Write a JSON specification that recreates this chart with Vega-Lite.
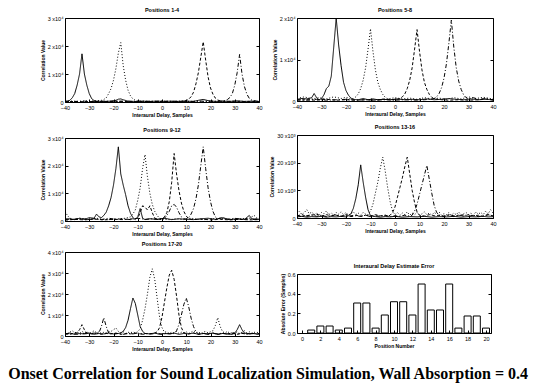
{
"$schema":"https://vega.github.io/schema/vega-lite/v6.json",
"background":"white",
"padding":{"left":7,"top":7,"right":5,"bottom":2},
"title":{"text":"Onset Correlation for Sound Localization Simulation, Wall Absorption = 0.4","orient":"bottom","font":"Liberation Serif","fontSize":16,"fontWeight":"bold","color":"black","offset":14,"anchor":"middle"},
"config":{
 "view":{"stroke":"black","strokeWidth":1},
 "axis":{"domain":false,"grid":false,"labelFont":"Liberation Sans","labelFontSize":5.5,"labelColor":"black","tickColor":"black","tickSize":-3,"labelPadding":5,"titleFont":"Liberation Sans","titleFontSize":5,"titleFontWeight":"bold","titleColor":"black","titlePadding":2,"labelFlush":false,"labelOverlap":false},
 "axisX":{"labelPadding":6},
 "title":{"font":"Liberation Sans","fontSize":5.5,"fontWeight":"bold","color":"black","offset":3}
},
"datasets":{
"p1":[
{"s":"a","lag":-40,"val":0.02},{"s":"a","lag":-39,"val":0.03},{"s":"a","lag":-38,"val":0.06},{"s":"a","lag":-37,"val":0.15},{"s":"a","lag":-36,"val":0.3},{"s":"a","lag":-35,"val":0.6},{"s":"a","lag":-34,"val":1.0},{"s":"a","lag":-33,"val":1.72},{"s":"a","lag":-32,"val":1.0},{"s":"a","lag":-31,"val":0.6},{"s":"a","lag":-30,"val":0.3},{"s":"a","lag":-29,"val":0.12},{"s":"a","lag":-28,"val":0.05},{"s":"a","lag":-27,"val":0.03},{"s":"a","lag":-24,"val":0.02},{"s":"a","lag":-21,"val":0.03},{"s":"a","lag":-19,"val":0.06},{"s":"a","lag":-18,"val":0.1},{"s":"a","lag":-17,"val":0.11},{"s":"a","lag":-16,"val":0.08},{"s":"a","lag":-14,"val":0.03},{"s":"a","lag":-11,"val":0.02},{"s":"a","lag":-8,"val":0.03},{"s":"a","lag":-5,"val":0.02},{"s":"a","lag":-2,"val":0.03},{"s":"a","lag":1,"val":0.02},{"s":"a","lag":4,"val":0.03},{"s":"a","lag":7,"val":0.02},{"s":"a","lag":10,"val":0.03},{"s":"a","lag":13,"val":0.02},{"s":"a","lag":15,"val":0.06},{"s":"a","lag":17,"val":0.09},{"s":"a","lag":19,"val":0.05},{"s":"a","lag":22,"val":0.02},{"s":"a","lag":25,"val":0.03},{"s":"a","lag":28,"val":0.02},{"s":"a","lag":31,"val":0.04},{"s":"a","lag":34,"val":0.02},{"s":"a","lag":37,"val":0.03},{"s":"a","lag":40,"val":0.02},
{"s":"b","lag":-40,"val":0.02},{"s":"b","lag":-37,"val":0.03},{"s":"b","lag":-34,"val":0.02},{"s":"b","lag":-31,"val":0.04},{"s":"b","lag":-28,"val":0.03},{"s":"b","lag":-26,"val":0.05},{"s":"b","lag":-25,"val":0.06},{"s":"b","lag":-24,"val":0.09},{"s":"b","lag":-23,"val":0.15},{"s":"b","lag":-22,"val":0.3},{"s":"b","lag":-21,"val":0.48},{"s":"b","lag":-20,"val":0.78},{"s":"b","lag":-19,"val":1.2},{"s":"b","lag":-18,"val":1.75},{"s":"b","lag":-17,"val":2.12},{"s":"b","lag":-16,"val":1.3},{"s":"b","lag":-15,"val":0.78},{"s":"b","lag":-14,"val":0.42},{"s":"b","lag":-13,"val":0.22},{"s":"b","lag":-12,"val":0.11},{"s":"b","lag":-11,"val":0.06},{"s":"b","lag":-10,"val":0.03},{"s":"b","lag":-7,"val":0.02},{"s":"b","lag":-4,"val":0.03},{"s":"b","lag":-1,"val":0.02},{"s":"b","lag":2,"val":0.03},{"s":"b","lag":5,"val":0.02},{"s":"b","lag":8,"val":0.03},{"s":"b","lag":11,"val":0.02},{"s":"b","lag":14,"val":0.03},{"s":"b","lag":17,"val":0.02},{"s":"b","lag":20,"val":0.03},{"s":"b","lag":23,"val":0.02},{"s":"b","lag":26,"val":0.03},{"s":"b","lag":29,"val":0.02},{"s":"b","lag":32,"val":0.03},{"s":"b","lag":35,"val":0.02},{"s":"b","lag":38,"val":0.03},{"s":"b","lag":40,"val":0.02},
{"s":"c","lag":-40,"val":0.01},{"s":"c","lag":-36,"val":0.02},{"s":"c","lag":-32,"val":0.01},{"s":"c","lag":-28,"val":0.02},{"s":"c","lag":-24,"val":0.01},{"s":"c","lag":-20,"val":0.03},{"s":"c","lag":-16,"val":0.02},{"s":"c","lag":-12,"val":0.01},{"s":"c","lag":-8,"val":0.02},{"s":"c","lag":-4,"val":0.01},{"s":"c","lag":0,"val":0.02},{"s":"c","lag":4,"val":0.01},{"s":"c","lag":7,"val":0.02},{"s":"c","lag":9,"val":0.03},{"s":"c","lag":10,"val":0.05},{"s":"c","lag":11,"val":0.1},{"s":"c","lag":12,"val":0.19},{"s":"c","lag":13,"val":0.35},{"s":"c","lag":14,"val":0.65},{"s":"c","lag":15,"val":1.05},{"s":"c","lag":16,"val":1.6},{"s":"c","lag":17,"val":2.15},{"s":"c","lag":18,"val":1.5},{"s":"c","lag":19,"val":0.9},{"s":"c","lag":20,"val":0.5},{"s":"c","lag":21,"val":0.28},{"s":"c","lag":22,"val":0.14},{"s":"c","lag":23,"val":0.07},{"s":"c","lag":24,"val":0.04},{"s":"c","lag":26,"val":0.02},{"s":"c","lag":29,"val":0.03},{"s":"c","lag":32,"val":0.02},{"s":"c","lag":35,"val":0.01},{"s":"c","lag":38,"val":0.02},{"s":"c","lag":40,"val":0.01},
{"s":"d","lag":-40,"val":0.03},{"s":"d","lag":-36,"val":0.02},{"s":"d","lag":-32,"val":0.03},{"s":"d","lag":-28,"val":0.02},{"s":"d","lag":-24,"val":0.03},{"s":"d","lag":-20,"val":0.02},{"s":"d","lag":-16,"val":0.03},{"s":"d","lag":-12,"val":0.02},{"s":"d","lag":-8,"val":0.03},{"s":"d","lag":-4,"val":0.02},{"s":"d","lag":0,"val":0.03},{"s":"d","lag":4,"val":0.02},{"s":"d","lag":8,"val":0.03},{"s":"d","lag":12,"val":0.02},{"s":"d","lag":16,"val":0.03},{"s":"d","lag":20,"val":0.02},{"s":"d","lag":23,"val":0.03},{"s":"d","lag":25,"val":0.03},{"s":"d","lag":26,"val":0.05},{"s":"d","lag":27,"val":0.09},{"s":"d","lag":28,"val":0.16},{"s":"d","lag":29,"val":0.3},{"s":"d","lag":30,"val":0.6},{"s":"d","lag":31,"val":1.05},{"s":"d","lag":32,"val":1.7},{"s":"d","lag":33,"val":1.0},{"s":"d","lag":34,"val":0.55},{"s":"d","lag":35,"val":0.28},{"s":"d","lag":36,"val":0.13},{"s":"d","lag":37,"val":0.07},{"s":"d","lag":38,"val":0.05},{"s":"d","lag":39,"val":0.03},{"s":"d","lag":40,"val":0.02}
],
"p2":[
{"s":"a","lag":-40,"val":0.04},{"s":"a","lag":-38,"val":0.06},{"s":"a","lag":-36,"val":0.05},{"s":"a","lag":-34,"val":0.08},{"s":"a","lag":-33,"val":0.18},{"s":"a","lag":-32,"val":0.08},{"s":"a","lag":-31,"val":0.03},{"s":"a","lag":-30,"val":0.06},{"s":"a","lag":-29,"val":0.15},{"s":"a","lag":-28,"val":0.3},{"s":"a","lag":-27,"val":0.36},{"s":"a","lag":-26,"val":0.6},{"s":"a","lag":-25,"val":1.3},{"s":"a","lag":-24,"val":2.0},{"s":"a","lag":-23,"val":1.35},{"s":"a","lag":-22,"val":0.85},{"s":"a","lag":-21,"val":0.45},{"s":"a","lag":-20,"val":0.25},{"s":"a","lag":-19,"val":0.14},{"s":"a","lag":-18,"val":0.07},{"s":"a","lag":-17,"val":0.04},{"s":"a","lag":-15,"val":0.03},{"s":"a","lag":-13,"val":0.06},{"s":"a","lag":-11,"val":0.03},{"s":"a","lag":-9,"val":0.05},{"s":"a","lag":-7,"val":0.03},{"s":"a","lag":-5,"val":0.04},{"s":"a","lag":-2,"val":0.03},{"s":"a","lag":1,"val":0.05},{"s":"a","lag":4,"val":0.03},{"s":"a","lag":7,"val":0.04},{"s":"a","lag":10,"val":0.03},{"s":"a","lag":13,"val":0.05},{"s":"a","lag":16,"val":0.03},{"s":"a","lag":19,"val":0.04},{"s":"a","lag":22,"val":0.06},{"s":"a","lag":25,"val":0.04},{"s":"a","lag":28,"val":0.03},{"s":"a","lag":31,"val":0.05},{"s":"a","lag":34,"val":0.03},{"s":"a","lag":37,"val":0.04},{"s":"a","lag":40,"val":0.03},
{"s":"b","lag":-40,"val":0.06},{"s":"b","lag":-37,"val":0.1},{"s":"b","lag":-34,"val":0.05},{"s":"b","lag":-31,"val":0.08},{"s":"b","lag":-28,"val":0.05},{"s":"b","lag":-25,"val":0.1},{"s":"b","lag":-22,"val":0.06},{"s":"b","lag":-20,"val":0.09},{"s":"b","lag":-18,"val":0.05},{"s":"b","lag":-17,"val":0.06},{"s":"b","lag":-16,"val":0.1},{"s":"b","lag":-15,"val":0.17},{"s":"b","lag":-14,"val":0.3},{"s":"b","lag":-13,"val":0.5},{"s":"b","lag":-12,"val":0.8},{"s":"b","lag":-11,"val":1.25},{"s":"b","lag":-10,"val":1.74},{"s":"b","lag":-9,"val":1.2},{"s":"b","lag":-8,"val":0.75},{"s":"b","lag":-7,"val":0.45},{"s":"b","lag":-6,"val":0.28},{"s":"b","lag":-5,"val":0.16},{"s":"b","lag":-4,"val":0.09},{"s":"b","lag":-3,"val":0.05},{"s":"b","lag":0,"val":0.08},{"s":"b","lag":3,"val":0.05},{"s":"b","lag":6,"val":0.07},{"s":"b","lag":9,"val":0.04},{"s":"b","lag":12,"val":0.08},{"s":"b","lag":15,"val":0.05},{"s":"b","lag":18,"val":0.07},{"s":"b","lag":21,"val":0.04},{"s":"b","lag":24,"val":0.08},{"s":"b","lag":27,"val":0.05},{"s":"b","lag":30,"val":0.1},{"s":"b","lag":33,"val":0.06},{"s":"b","lag":36,"val":0.09},{"s":"b","lag":40,"val":0.05},
{"s":"c","lag":-40,"val":0.02},{"s":"c","lag":-36,"val":0.03},{"s":"c","lag":-32,"val":0.02},{"s":"c","lag":-28,"val":0.04},{"s":"c","lag":-24,"val":0.02},{"s":"c","lag":-20,"val":0.03},{"s":"c","lag":-16,"val":0.02},{"s":"c","lag":-12,"val":0.03},{"s":"c","lag":-8,"val":0.02},{"s":"c","lag":-4,"val":0.05},{"s":"c","lag":-1,"val":0.03},{"s":"c","lag":1,"val":0.04},{"s":"c","lag":2,"val":0.06},{"s":"c","lag":3,"val":0.1},{"s":"c","lag":4,"val":0.17},{"s":"c","lag":5,"val":0.3},{"s":"c","lag":6,"val":0.5},{"s":"c","lag":7,"val":0.8},{"s":"c","lag":8,"val":1.25},{"s":"c","lag":9,"val":1.72},{"s":"c","lag":10,"val":1.2},{"s":"c","lag":11,"val":0.75},{"s":"c","lag":12,"val":0.45},{"s":"c","lag":13,"val":0.28},{"s":"c","lag":14,"val":0.16},{"s":"c","lag":15,"val":0.09},{"s":"c","lag":16,"val":0.05},{"s":"c","lag":19,"val":0.03},{"s":"c","lag":22,"val":0.02},{"s":"c","lag":26,"val":0.03},{"s":"c","lag":30,"val":0.02},{"s":"c","lag":34,"val":0.03},{"s":"c","lag":37,"val":0.05},{"s":"c","lag":40,"val":0.02},
{"s":"d","lag":-40,"val":0.03},{"s":"d","lag":-36,"val":0.02},{"s":"d","lag":-32,"val":0.04},{"s":"d","lag":-28,"val":0.02},{"s":"d","lag":-24,"val":0.03},{"s":"d","lag":-20,"val":0.04},{"s":"d","lag":-16,"val":0.02},{"s":"d","lag":-12,"val":0.03},{"s":"d","lag":-8,"val":0.02},{"s":"d","lag":-4,"val":0.03},{"s":"d","lag":0,"val":0.02},{"s":"d","lag":4,"val":0.03},{"s":"d","lag":8,"val":0.02},{"s":"d","lag":12,"val":0.03},{"s":"d","lag":14,"val":0.04},{"s":"d","lag":16,"val":0.06},{"s":"d","lag":17,"val":0.1},{"s":"d","lag":18,"val":0.18},{"s":"d","lag":19,"val":0.32},{"s":"d","lag":20,"val":0.55},{"s":"d","lag":21,"val":0.9},{"s":"d","lag":22,"val":1.4},{"s":"d","lag":23,"val":1.95},{"s":"d","lag":24,"val":1.3},{"s":"d","lag":25,"val":0.8},{"s":"d","lag":26,"val":0.48},{"s":"d","lag":27,"val":0.28},{"s":"d","lag":28,"val":0.15},{"s":"d","lag":29,"val":0.08},{"s":"d","lag":30,"val":0.05},{"s":"d","lag":32,"val":0.08},{"s":"d","lag":34,"val":0.04},{"s":"d","lag":37,"val":0.06},{"s":"d","lag":40,"val":0.03}
],
"p3":[
{"s":"a","lag":-40,"val":0.05},{"s":"a","lag":-38,"val":0.08},{"s":"a","lag":-36,"val":0.05},{"s":"a","lag":-34,"val":0.1},{"s":"a","lag":-32,"val":0.06},{"s":"a","lag":-30,"val":0.12},{"s":"a","lag":-28,"val":0.1},{"s":"a","lag":-27,"val":0.25},{"s":"a","lag":-26,"val":0.15},{"s":"a","lag":-25,"val":0.12},{"s":"a","lag":-24,"val":0.2},{"s":"a","lag":-23,"val":0.32},{"s":"a","lag":-22,"val":0.55},{"s":"a","lag":-21,"val":0.85},{"s":"a","lag":-20,"val":1.3},{"s":"a","lag":-19,"val":1.9},{"s":"a","lag":-18,"val":2.68},{"s":"a","lag":-17,"val":1.7},{"s":"a","lag":-16,"val":1.3},{"s":"a","lag":-15,"val":0.95},{"s":"a","lag":-14,"val":0.55},{"s":"a","lag":-13,"val":0.28},{"s":"a","lag":-12,"val":0.12},{"s":"a","lag":-11,"val":0.05},{"s":"a","lag":-10,"val":0.15},{"s":"a","lag":-9,"val":0.45},{"s":"a","lag":-8,"val":0.1},{"s":"a","lag":-7,"val":0.05},{"s":"a","lag":-5,"val":0.08},{"s":"a","lag":-2,"val":0.06},{"s":"a","lag":1,"val":0.1},{"s":"a","lag":4,"val":0.05},{"s":"a","lag":7,"val":0.08},{"s":"a","lag":10,"val":0.06},{"s":"a","lag":13,"val":0.05},{"s":"a","lag":16,"val":0.08},{"s":"a","lag":19,"val":0.1},{"s":"a","lag":22,"val":0.06},{"s":"a","lag":25,"val":0.12},{"s":"a","lag":28,"val":0.05},{"s":"a","lag":31,"val":0.08},{"s":"a","lag":34,"val":0.06},{"s":"a","lag":36,"val":0.2},{"s":"a","lag":37,"val":0.08},{"s":"a","lag":40,"val":0.06},
{"s":"b","lag":-40,"val":0.35},{"s":"b","lag":-39,"val":0.2},{"s":"b","lag":-38,"val":0.1},{"s":"b","lag":-36,"val":0.05},{"s":"b","lag":-33,"val":0.08},{"s":"b","lag":-30,"val":0.05},{"s":"b","lag":-27,"val":0.1},{"s":"b","lag":-24,"val":0.06},{"s":"b","lag":-21,"val":0.05},{"s":"b","lag":-18,"val":0.08},{"s":"b","lag":-15,"val":0.1},{"s":"b","lag":-13,"val":0.15},{"s":"b","lag":-12,"val":0.25},{"s":"b","lag":-11,"val":0.4},{"s":"b","lag":-10,"val":0.75},{"s":"b","lag":-9,"val":1.2},{"s":"b","lag":-8,"val":1.9},{"s":"b","lag":-7,"val":2.4},{"s":"b","lag":-6,"val":1.6},{"s":"b","lag":-5,"val":1.0},{"s":"b","lag":-4,"val":0.6},{"s":"b","lag":-3,"val":0.35},{"s":"b","lag":-2,"val":0.2},{"s":"b","lag":-1,"val":0.1},{"s":"b","lag":0,"val":0.06},{"s":"b","lag":3,"val":0.05},{"s":"b","lag":6,"val":0.08},{"s":"b","lag":9,"val":0.05},{"s":"b","lag":12,"val":0.1},{"s":"b","lag":15,"val":0.06},{"s":"b","lag":18,"val":0.05},{"s":"b","lag":21,"val":0.08},{"s":"b","lag":24,"val":0.1},{"s":"b","lag":27,"val":0.06},{"s":"b","lag":30,"val":0.05},{"s":"b","lag":33,"val":0.08},{"s":"b","lag":36,"val":0.1},{"s":"b","lag":38,"val":0.2},{"s":"b","lag":40,"val":0.05},
{"s":"c","lag":-40,"val":0.03},{"s":"c","lag":-36,"val":0.06},{"s":"c","lag":-32,"val":0.04},{"s":"c","lag":-28,"val":0.07},{"s":"c","lag":-24,"val":0.04},{"s":"c","lag":-20,"val":0.06},{"s":"c","lag":-16,"val":0.05},{"s":"c","lag":-12,"val":0.08},{"s":"c","lag":-10,"val":0.1},{"s":"c","lag":-9,"val":0.3},{"s":"c","lag":-8,"val":0.55},{"s":"c","lag":-7,"val":0.5},{"s":"c","lag":-6,"val":0.4},{"s":"c","lag":-5,"val":0.55},{"s":"c","lag":-4,"val":0.3},{"s":"c","lag":-3,"val":0.1},{"s":"c","lag":-1,"val":0.06},{"s":"c","lag":0,"val":0.08},{"s":"c","lag":1,"val":0.15},{"s":"c","lag":2,"val":0.3},{"s":"c","lag":3,"val":0.7},{"s":"c","lag":4,"val":1.4},{"s":"c","lag":5,"val":2.44},{"s":"c","lag":6,"val":1.7},{"s":"c","lag":7,"val":1.1},{"s":"c","lag":8,"val":0.65},{"s":"c","lag":9,"val":0.35},{"s":"c","lag":10,"val":0.18},{"s":"c","lag":11,"val":0.08},{"s":"c","lag":13,"val":0.05},{"s":"c","lag":16,"val":0.07},{"s":"c","lag":20,"val":0.04},{"s":"c","lag":24,"val":0.06},{"s":"c","lag":28,"val":0.04},{"s":"c","lag":32,"val":0.06},{"s":"c","lag":36,"val":0.04},{"s":"c","lag":40,"val":0.05},
{"s":"d","lag":-40,"val":0.08},{"s":"d","lag":-37,"val":0.05},{"s":"d","lag":-34,"val":0.1},{"s":"d","lag":-31,"val":0.06},{"s":"d","lag":-28,"val":0.08},{"s":"d","lag":-25,"val":0.05},{"s":"d","lag":-22,"val":0.1},{"s":"d","lag":-19,"val":0.06},{"s":"d","lag":-16,"val":0.08},{"s":"d","lag":-13,"val":0.05},{"s":"d","lag":-10,"val":0.1},{"s":"d","lag":-7,"val":0.06},{"s":"d","lag":-4,"val":0.08},{"s":"d","lag":-1,"val":0.05},{"s":"d","lag":1,"val":0.1},{"s":"d","lag":2,"val":0.2},{"s":"d","lag":3,"val":0.35},{"s":"d","lag":4,"val":0.55},{"s":"d","lag":5,"val":0.6},{"s":"d","lag":6,"val":0.5},{"s":"d","lag":7,"val":0.3},{"s":"d","lag":8,"val":0.15},{"s":"d","lag":9,"val":0.08},{"s":"d","lag":10,"val":0.07},{"s":"d","lag":11,"val":0.12},{"s":"d","lag":12,"val":0.25},{"s":"d","lag":13,"val":0.45},{"s":"d","lag":14,"val":0.8},{"s":"d","lag":15,"val":1.3},{"s":"d","lag":16,"val":2.0},{"s":"d","lag":17,"val":2.68},{"s":"d","lag":18,"val":1.9},{"s":"d","lag":19,"val":1.2},{"s":"d","lag":20,"val":0.7},{"s":"d","lag":21,"val":0.35},{"s":"d","lag":22,"val":0.15},{"s":"d","lag":23,"val":0.08},{"s":"d","lag":25,"val":0.12},{"s":"d","lag":27,"val":0.06},{"s":"d","lag":30,"val":0.1},{"s":"d","lag":33,"val":0.05},{"s":"d","lag":36,"val":0.08},{"s":"d","lag":38,"val":0.05},{"s":"d","lag":40,"val":0.1}
],
"p4":[
{"s":"a","lag":-40,"val":0.04},{"s":"a","lag":-38,"val":0.06},{"s":"a","lag":-36,"val":0.03},{"s":"a","lag":-34,"val":0.05},{"s":"a","lag":-32,"val":0.04},{"s":"a","lag":-30,"val":0.06},{"s":"a","lag":-28,"val":0.03},{"s":"a","lag":-26,"val":0.05},{"s":"a","lag":-24,"val":0.04},{"s":"a","lag":-22,"val":0.06},{"s":"a","lag":-20,"val":0.04},{"s":"a","lag":-19,"val":0.08},{"s":"a","lag":-18,"val":0.15},{"s":"a","lag":-17,"val":0.35},{"s":"a","lag":-16,"val":0.7},{"s":"a","lag":-15,"val":1.2},{"s":"a","lag":-14,"val":1.92},{"s":"a","lag":-13,"val":1.3},{"s":"a","lag":-12,"val":0.75},{"s":"a","lag":-11,"val":0.3},{"s":"a","lag":-10,"val":0.08},{"s":"a","lag":-8,"val":0.05},{"s":"a","lag":-6,"val":0.03},{"s":"a","lag":-4,"val":0.05},{"s":"a","lag":-2,"val":0.04},{"s":"a","lag":0,"val":0.06},{"s":"a","lag":3,"val":0.03},{"s":"a","lag":6,"val":0.05},{"s":"a","lag":9,"val":0.04},{"s":"a","lag":12,"val":0.06},{"s":"a","lag":15,"val":0.03},{"s":"a","lag":18,"val":0.05},{"s":"a","lag":21,"val":0.04},{"s":"a","lag":24,"val":0.06},{"s":"a","lag":27,"val":0.03},{"s":"a","lag":30,"val":0.05},{"s":"a","lag":33,"val":0.04},{"s":"a","lag":36,"val":0.06},{"s":"a","lag":38,"val":0.04},{"s":"a","lag":40,"val":0.05},
{"s":"b","lag":-40,"val":0.15},{"s":"b","lag":-39,"val":0.25},{"s":"b","lag":-38,"val":0.12},{"s":"b","lag":-37,"val":0.2},{"s":"b","lag":-36,"val":0.3},{"s":"b","lag":-35,"val":0.15},{"s":"b","lag":-34,"val":0.22},{"s":"b","lag":-33,"val":0.12},{"s":"b","lag":-32,"val":0.18},{"s":"b","lag":-31,"val":0.1},{"s":"b","lag":-30,"val":0.2},{"s":"b","lag":-29,"val":0.15},{"s":"b","lag":-28,"val":0.25},{"s":"b","lag":-27,"val":0.12},{"s":"b","lag":-26,"val":0.18},{"s":"b","lag":-25,"val":0.1},{"s":"b","lag":-24,"val":0.2},{"s":"b","lag":-23,"val":0.14},{"s":"b","lag":-22,"val":0.22},{"s":"b","lag":-21,"val":0.12},{"s":"b","lag":-20,"val":0.2},{"s":"b","lag":-19,"val":0.1},{"s":"b","lag":-18,"val":0.15},{"s":"b","lag":-17,"val":0.22},{"s":"b","lag":-16,"val":0.12},{"s":"b","lag":-15,"val":0.18},{"s":"b","lag":-14,"val":0.1},{"s":"b","lag":-13,"val":0.2},{"s":"b","lag":-12,"val":0.14},{"s":"b","lag":-11,"val":0.12},{"s":"b","lag":-10,"val":0.25},{"s":"b","lag":-9,"val":0.5},{"s":"b","lag":-8,"val":0.9},{"s":"b","lag":-7,"val":1.3},{"s":"b","lag":-6,"val":1.8},{"s":"b","lag":-5,"val":2.2},{"s":"b","lag":-4,"val":1.7},{"s":"b","lag":-3,"val":1.1},{"s":"b","lag":-2,"val":0.6},{"s":"b","lag":-1,"val":0.25},{"s":"b","lag":0,"val":0.12},{"s":"b","lag":1,"val":0.2},{"s":"b","lag":2,"val":0.1},{"s":"b","lag":3,"val":0.18},{"s":"b","lag":4,"val":0.12},{"s":"b","lag":5,"val":0.22},{"s":"b","lag":6,"val":0.1},{"s":"b","lag":7,"val":0.18},{"s":"b","lag":8,"val":0.12},{"s":"b","lag":9,"val":0.2},{"s":"b","lag":10,"val":0.1},{"s":"b","lag":11,"val":0.15},{"s":"b","lag":12,"val":0.22},{"s":"b","lag":13,"val":0.12},{"s":"b","lag":14,"val":0.18},{"s":"b","lag":15,"val":0.1},{"s":"b","lag":16,"val":0.2},{"s":"b","lag":17,"val":0.14},{"s":"b","lag":18,"val":0.22},{"s":"b","lag":19,"val":0.1},{"s":"b","lag":20,"val":0.16},{"s":"b","lag":21,"val":0.12},{"s":"b","lag":22,"val":0.2},{"s":"b","lag":23,"val":0.1},{"s":"b","lag":24,"val":0.18},{"s":"b","lag":25,"val":0.12},{"s":"b","lag":26,"val":0.22},{"s":"b","lag":27,"val":0.1},{"s":"b","lag":28,"val":0.15},{"s":"b","lag":29,"val":0.2},{"s":"b","lag":30,"val":0.12},{"s":"b","lag":31,"val":0.18},{"s":"b","lag":32,"val":0.1},{"s":"b","lag":33,"val":0.22},{"s":"b","lag":34,"val":0.14},{"s":"b","lag":35,"val":0.2},{"s":"b","lag":36,"val":0.12},{"s":"b","lag":37,"val":0.25},{"s":"b","lag":38,"val":0.15},{"s":"b","lag":39,"val":0.3},{"s":"b","lag":40,"val":0.18},
{"s":"c","lag":-40,"val":0.08},{"s":"c","lag":-38,"val":0.12},{"s":"c","lag":-36,"val":0.06},{"s":"c","lag":-34,"val":0.1},{"s":"c","lag":-32,"val":0.14},{"s":"c","lag":-30,"val":0.07},{"s":"c","lag":-28,"val":0.12},{"s":"c","lag":-26,"val":0.08},{"s":"c","lag":-24,"val":0.1},{"s":"c","lag":-22,"val":0.06},{"s":"c","lag":-20,"val":0.12},{"s":"c","lag":-18,"val":0.08},{"s":"c","lag":-16,"val":0.1},{"s":"c","lag":-14,"val":0.06},{"s":"c","lag":-12,"val":0.1},{"s":"c","lag":-10,"val":0.07},{"s":"c","lag":-8,"val":0.12},{"s":"c","lag":-6,"val":0.08},{"s":"c","lag":-4,"val":0.1},{"s":"c","lag":-3,"val":0.06},{"s":"c","lag":-2,"val":0.1},{"s":"c","lag":-1,"val":0.2},{"s":"c","lag":0,"val":0.4},{"s":"c","lag":1,"val":0.75},{"s":"c","lag":2,"val":1.1},{"s":"c","lag":3,"val":1.45},{"s":"c","lag":4,"val":1.85},{"s":"c","lag":5,"val":2.2},{"s":"c","lag":6,"val":1.6},{"s":"c","lag":7,"val":1.0},{"s":"c","lag":8,"val":0.55},{"s":"c","lag":9,"val":0.22},{"s":"c","lag":10,"val":0.1},{"s":"c","lag":12,"val":0.07},{"s":"c","lag":14,"val":0.12},{"s":"c","lag":16,"val":0.08},{"s":"c","lag":18,"val":0.1},{"s":"c","lag":20,"val":0.06},{"s":"c","lag":22,"val":0.12},{"s":"c","lag":24,"val":0.08},{"s":"c","lag":26,"val":0.1},{"s":"c","lag":28,"val":0.07},{"s":"c","lag":30,"val":0.12},{"s":"c","lag":32,"val":0.08},{"s":"c","lag":34,"val":0.1},{"s":"c","lag":36,"val":0.06},{"s":"c","lag":38,"val":0.12},{"s":"c","lag":40,"val":0.08},
{"s":"d","lag":-40,"val":0.1},{"s":"d","lag":-38,"val":0.05},{"s":"d","lag":-36,"val":0.08},{"s":"d","lag":-34,"val":0.12},{"s":"d","lag":-32,"val":0.06},{"s":"d","lag":-30,"val":0.1},{"s":"d","lag":-28,"val":0.05},{"s":"d","lag":-26,"val":0.08},{"s":"d","lag":-24,"val":0.12},{"s":"d","lag":-22,"val":0.06},{"s":"d","lag":-20,"val":0.1},{"s":"d","lag":-18,"val":0.05},{"s":"d","lag":-16,"val":0.08},{"s":"d","lag":-14,"val":0.06},{"s":"d","lag":-12,"val":0.1},{"s":"d","lag":-10,"val":0.05},{"s":"d","lag":-8,"val":0.08},{"s":"d","lag":-6,"val":0.06},{"s":"d","lag":-4,"val":0.1},{"s":"d","lag":-2,"val":0.05},{"s":"d","lag":0,"val":0.08},{"s":"d","lag":2,"val":0.06},{"s":"d","lag":4,"val":0.1},{"s":"d","lag":6,"val":0.07},{"s":"d","lag":7,"val":0.1},{"s":"d","lag":8,"val":0.25},{"s":"d","lag":9,"val":0.5},{"s":"d","lag":10,"val":0.85},{"s":"d","lag":11,"val":1.2},{"s":"d","lag":12,"val":1.55},{"s":"d","lag":13,"val":1.9},{"s":"d","lag":14,"val":1.4},{"s":"d","lag":15,"val":0.9},{"s":"d","lag":16,"val":0.45},{"s":"d","lag":17,"val":0.2},{"s":"d","lag":18,"val":0.1},{"s":"d","lag":20,"val":0.06},{"s":"d","lag":22,"val":0.1},{"s":"d","lag":24,"val":0.05},{"s":"d","lag":26,"val":0.08},{"s":"d","lag":28,"val":0.12},{"s":"d","lag":30,"val":0.06},{"s":"d","lag":32,"val":0.1},{"s":"d","lag":34,"val":0.05},{"s":"d","lag":36,"val":0.08},{"s":"d","lag":38,"val":0.12},{"s":"d","lag":40,"val":0.06}
],
"p5":[
{"s":"a","lag":-40,"val":0.1},{"s":"a","lag":-38,"val":0.14},{"s":"a","lag":-36,"val":0.08},{"s":"a","lag":-34,"val":0.12},{"s":"a","lag":-32,"val":0.1},{"s":"a","lag":-30,"val":0.14},{"s":"a","lag":-28,"val":0.08},{"s":"a","lag":-26,"val":0.12},{"s":"a","lag":-24,"val":0.1},{"s":"a","lag":-22,"val":0.14},{"s":"a","lag":-20,"val":0.1},{"s":"a","lag":-18,"val":0.12},{"s":"a","lag":-17,"val":0.15},{"s":"a","lag":-16,"val":0.22},{"s":"a","lag":-15,"val":0.4},{"s":"a","lag":-14,"val":0.75},{"s":"a","lag":-13,"val":1.3},{"s":"a","lag":-12,"val":1.81},{"s":"a","lag":-11,"val":1.55},{"s":"a","lag":-10,"val":1.0},{"s":"a","lag":-9,"val":0.45},{"s":"a","lag":-8,"val":0.22},{"s":"a","lag":-7,"val":0.12},{"s":"a","lag":-5,"val":0.1},{"s":"a","lag":-3,"val":0.14},{"s":"a","lag":-1,"val":0.08},{"s":"a","lag":1,"val":0.12},{"s":"a","lag":3,"val":0.1},{"s":"a","lag":5,"val":0.14},{"s":"a","lag":7,"val":0.08},{"s":"a","lag":9,"val":0.12},{"s":"a","lag":11,"val":0.1},{"s":"a","lag":13,"val":0.14},{"s":"a","lag":15,"val":0.08},{"s":"a","lag":17,"val":0.12},{"s":"a","lag":19,"val":0.1},{"s":"a","lag":21,"val":0.14},{"s":"a","lag":23,"val":0.08},{"s":"a","lag":25,"val":0.12},{"s":"a","lag":27,"val":0.1},{"s":"a","lag":29,"val":0.08},{"s":"a","lag":30,"val":0.14},{"s":"a","lag":31,"val":0.3},{"s":"a","lag":32,"val":0.54},{"s":"a","lag":33,"val":0.3},{"s":"a","lag":34,"val":0.14},{"s":"a","lag":36,"val":0.1},{"s":"a","lag":38,"val":0.12},{"s":"a","lag":40,"val":0.08},
{"s":"b","lag":-40,"val":0.2},{"s":"b","lag":-39,"val":0.12},{"s":"b","lag":-38,"val":0.18},{"s":"b","lag":-37,"val":0.25},{"s":"b","lag":-36,"val":0.15},{"s":"b","lag":-35,"val":0.2},{"s":"b","lag":-34,"val":0.12},{"s":"b","lag":-33,"val":0.22},{"s":"b","lag":-32,"val":0.15},{"s":"b","lag":-31,"val":0.2},{"s":"b","lag":-30,"val":0.12},{"s":"b","lag":-29,"val":0.18},{"s":"b","lag":-28,"val":0.25},{"s":"b","lag":-27,"val":0.15},{"s":"b","lag":-26,"val":0.2},{"s":"b","lag":-25,"val":0.12},{"s":"b","lag":-24,"val":0.18},{"s":"b","lag":-23,"val":0.15},{"s":"b","lag":-22,"val":0.2},{"s":"b","lag":-21,"val":0.22},{"s":"b","lag":-20,"val":0.3},{"s":"b","lag":-19,"val":0.38},{"s":"b","lag":-18,"val":0.22},{"s":"b","lag":-17,"val":0.15},{"s":"b","lag":-16,"val":0.2},{"s":"b","lag":-15,"val":0.12},{"s":"b","lag":-14,"val":0.18},{"s":"b","lag":-13,"val":0.15},{"s":"b","lag":-12,"val":0.2},{"s":"b","lag":-11,"val":0.15},{"s":"b","lag":-10,"val":0.2},{"s":"b","lag":-9,"val":0.35},{"s":"b","lag":-8,"val":0.75},{"s":"b","lag":-7,"val":1.3},{"s":"b","lag":-6,"val":2.0},{"s":"b","lag":-5,"val":2.8},{"s":"b","lag":-4,"val":3.2},{"s":"b","lag":-3,"val":2.7},{"s":"b","lag":-2,"val":1.8},{"s":"b","lag":-1,"val":0.9},{"s":"b","lag":0,"val":0.4},{"s":"b","lag":1,"val":0.18},{"s":"b","lag":2,"val":0.2},{"s":"b","lag":3,"val":0.12},{"s":"b","lag":4,"val":0.18},{"s":"b","lag":5,"val":0.15},{"s":"b","lag":6,"val":0.22},{"s":"b","lag":7,"val":0.12},{"s":"b","lag":8,"val":0.18},{"s":"b","lag":9,"val":0.15},{"s":"b","lag":10,"val":0.2},{"s":"b","lag":11,"val":0.12},{"s":"b","lag":12,"val":0.18},{"s":"b","lag":13,"val":0.25},{"s":"b","lag":14,"val":0.15},{"s":"b","lag":15,"val":0.2},{"s":"b","lag":16,"val":0.12},{"s":"b","lag":17,"val":0.18},{"s":"b","lag":18,"val":0.22},{"s":"b","lag":19,"val":0.15},{"s":"b","lag":20,"val":0.2},{"s":"b","lag":21,"val":0.25},{"s":"b","lag":22,"val":0.5},{"s":"b","lag":23,"val":0.87},{"s":"b","lag":24,"val":0.45},{"s":"b","lag":25,"val":0.2},{"s":"b","lag":26,"val":0.15},{"s":"b","lag":27,"val":0.22},{"s":"b","lag":28,"val":0.12},{"s":"b","lag":29,"val":0.18},{"s":"b","lag":30,"val":0.15},{"s":"b","lag":31,"val":0.2},{"s":"b","lag":32,"val":0.12},{"s":"b","lag":33,"val":0.18},{"s":"b","lag":34,"val":0.25},{"s":"b","lag":35,"val":0.15},{"s":"b","lag":36,"val":0.2},{"s":"b","lag":37,"val":0.12},{"s":"b","lag":38,"val":0.18},{"s":"b","lag":39,"val":0.15},{"s":"b","lag":40,"val":0.2},
{"s":"c","lag":-40,"val":0.12},{"s":"c","lag":-38,"val":0.08},{"s":"c","lag":-36,"val":0.14},{"s":"c","lag":-35,"val":0.15},{"s":"c","lag":-34,"val":0.3},{"s":"c","lag":-33,"val":0.54},{"s":"c","lag":-32,"val":0.3},{"s":"c","lag":-31,"val":0.14},{"s":"c","lag":-29,"val":0.1},{"s":"c","lag":-27,"val":0.14},{"s":"c","lag":-25,"val":0.08},{"s":"c","lag":-23,"val":0.12},{"s":"c","lag":-21,"val":0.1},{"s":"c","lag":-19,"val":0.14},{"s":"c","lag":-17,"val":0.08},{"s":"c","lag":-15,"val":0.12},{"s":"c","lag":-13,"val":0.1},{"s":"c","lag":-11,"val":0.14},{"s":"c","lag":-9,"val":0.1},{"s":"c","lag":-7,"val":0.12},{"s":"c","lag":-5,"val":0.1},{"s":"c","lag":-3,"val":0.14},{"s":"c","lag":-2,"val":0.2},{"s":"c","lag":-1,"val":0.4},{"s":"c","lag":0,"val":0.9},{"s":"c","lag":1,"val":1.6},{"s":"c","lag":2,"val":2.3},{"s":"c","lag":3,"val":2.9},{"s":"c","lag":4,"val":3.13},{"s":"c","lag":5,"val":2.7},{"s":"c","lag":6,"val":1.9},{"s":"c","lag":7,"val":1.0},{"s":"c","lag":8,"val":0.4},{"s":"c","lag":9,"val":0.15},{"s":"c","lag":11,"val":0.1},{"s":"c","lag":13,"val":0.14},{"s":"c","lag":15,"val":0.08},{"s":"c","lag":17,"val":0.12},{"s":"c","lag":19,"val":0.1},{"s":"c","lag":21,"val":0.14},{"s":"c","lag":23,"val":0.08},{"s":"c","lag":25,"val":0.12},{"s":"c","lag":27,"val":0.1},{"s":"c","lag":29,"val":0.14},{"s":"c","lag":31,"val":0.08},{"s":"c","lag":33,"val":0.12},{"s":"c","lag":35,"val":0.1},{"s":"c","lag":37,"val":0.14},{"s":"c","lag":39,"val":0.08},{"s":"c","lag":40,"val":0.12},
{"s":"d","lag":-40,"val":0.08},{"s":"d","lag":-38,"val":0.12},{"s":"d","lag":-36,"val":0.1},{"s":"d","lag":-34,"val":0.08},{"s":"d","lag":-32,"val":0.12},{"s":"d","lag":-30,"val":0.1},{"s":"d","lag":-28,"val":0.14},{"s":"d","lag":-27,"val":0.1},{"s":"d","lag":-26,"val":0.15},{"s":"d","lag":-25,"val":0.45},{"s":"d","lag":-24,"val":0.87},{"s":"d","lag":-23,"val":0.45},{"s":"d","lag":-22,"val":0.15},{"s":"d","lag":-20,"val":0.1},{"s":"d","lag":-18,"val":0.12},{"s":"d","lag":-16,"val":0.08},{"s":"d","lag":-14,"val":0.12},{"s":"d","lag":-12,"val":0.1},{"s":"d","lag":-10,"val":0.14},{"s":"d","lag":-8,"val":0.08},{"s":"d","lag":-6,"val":0.12},{"s":"d","lag":-4,"val":0.1},{"s":"d","lag":-2,"val":0.14},{"s":"d","lag":0,"val":0.08},{"s":"d","lag":2,"val":0.12},{"s":"d","lag":4,"val":0.1},{"s":"d","lag":5,"val":0.12},{"s":"d","lag":6,"val":0.25},{"s":"d","lag":7,"val":0.55},{"s":"d","lag":8,"val":1.0},{"s":"d","lag":9,"val":1.5},{"s":"d","lag":10,"val":1.81},{"s":"d","lag":11,"val":1.4},{"s":"d","lag":12,"val":0.85},{"s":"d","lag":13,"val":0.45},{"s":"d","lag":14,"val":0.2},{"s":"d","lag":15,"val":0.1},{"s":"d","lag":17,"val":0.12},{"s":"d","lag":19,"val":0.08},{"s":"d","lag":21,"val":0.12},{"s":"d","lag":23,"val":0.1},{"s":"d","lag":25,"val":0.14},{"s":"d","lag":27,"val":0.08},{"s":"d","lag":29,"val":0.12},{"s":"d","lag":31,"val":0.1},{"s":"d","lag":33,"val":0.14},{"s":"d","lag":35,"val":0.08},{"s":"d","lag":37,"val":0.12},{"s":"d","lag":39,"val":0.1},{"s":"d","lag":40,"val":0.12}
],
"bars":[
{"position":1,"error":0.03},{"position":2,"error":0.071},{"position":3,"error":0.071},{"position":4,"error":0.03},{"position":5,"error":0.05},{"position":6,"error":0.305},{"position":7,"error":0.305},{"position":8,"error":0.05},{"position":9,"error":0.183},{"position":10,"error":0.318},{"position":11,"error":0.318},{"position":12,"error":0.183},{"position":13,"error":0.498},{"position":14,"error":0.234},{"position":15,"error":0.234},{"position":16,"error":0.498},{"position":17,"error":0.05},{"position":18,"error":0.173},{"position":19,"error":0.173},{"position":20,"error":0.05}
]
},
"align":"none",
"hconcat":[
{"align":"none","vconcat":[
 {"align":"none","vconcat":[
 {"width":194,"height":84,"title":"Positions 1-4","data":{"name":"p1"},
  "layer":[
   {"mark":{"type":"line","strokeWidth":1,"color":"black","clip":true},
    "encoding":{"x":{"field":"lag","type":"quantitative","scale":{"domain":[-40,40]},"axis":{"values":[-40,-30,-20,-10,0,10,20,30,40],"title":"Interaural Delay, Samples"}},
     "y":{"field":"val","type":"quantitative","scale":{"domain":[0,3]},"axis":{"values":[0,1,2,3],"labelExpr":"datum.value==0?'0':datum.value+' x10⁴'","title":"Correlation Value"}},
     "strokeDash":{"field":"s","type":"nominal","scale":{"domain":["a","b","c","d"],"range":[[1,0],[1,2],[3,2],[4,2,1,2]]},"legend":null}}},
   {"mark":{"type":"rule","opacity":0},
    "encoding":{"y":{"field":"val","type":"quantitative","scale":{"domain":[0,3]},"axis":{"orient":"right","values":[0,1,2,3],"labels":false,"title":null}}}}
  ],
  "resolve":{"axis":{"y":"independent"}}},
 {"width":194,"height":83,"title":"Positions 9-12","data":{"name":"p3"},
  "layer":[
   {"mark":{"type":"line","strokeWidth":1,"color":"black","clip":true},
    "encoding":{"x":{"field":"lag","type":"quantitative","scale":{"domain":[-40,40]},"axis":{"values":[-40,-30,-20,-10,0,10,20,30,40],"title":"Interaural Delay, Samples"}},
     "y":{"field":"val","type":"quantitative","scale":{"domain":[0,3]},"axis":{"values":[0,1,2,3],"labelExpr":"datum.value==0?'0':datum.value+' x10⁴'","title":"Correlation Value"}},
     "strokeDash":{"field":"s","type":"nominal","scale":{"domain":["a","b","c","d"],"range":[[1,0],[1,2],[3,2],[4,2,1,2]]},"legend":null}}},
   {"mark":{"type":"rule","opacity":0},
    "encoding":{"y":{"field":"val","type":"quantitative","scale":{"domain":[0,3]},"axis":{"orient":"right","values":[0,1,2,3],"labels":false,"title":null}}}}
  ],
  "resolve":{"axis":{"y":"independent"}}}
 ],"spacing":9},
 {"width":194,"height":84,"title":"Positions 17-20","data":{"name":"p5"},
  "layer":[
   {"mark":{"type":"line","strokeWidth":1,"color":"black","clip":true},
    "encoding":{"x":{"field":"lag","type":"quantitative","scale":{"domain":[-40,40]},"axis":{"values":[-40,-30,-20,-10,0,10,20,30,40],"title":"Interaural Delay, Samples"}},
     "y":{"field":"val","type":"quantitative","scale":{"domain":[0,4]},"axis":{"values":[0,1,2,3,4],"labelExpr":"datum.value==0?'0':datum.value+' x10⁴'","title":"Correlation Value"}},
     "strokeDash":{"field":"s","type":"nominal","scale":{"domain":["a","b","c","d"],"range":[[1,0],[1,2],[3,2],[4,2,1,2]]},"legend":null}}},
   {"mark":{"type":"rule","opacity":0},
    "encoding":{"y":{"field":"val","type":"quantitative","scale":{"domain":[0,4]},"axis":{"orient":"right","values":[0,1,2,3,4],"labels":false,"title":null}}}}
  ],
  "resolve":{"axis":{"y":"independent"}}}
 ],"spacing":4},
{"align":"none","vconcat":[
 {"align":"none","vconcat":[
  {"width":196,"height":83,"title":"Positions 5-8","data":{"name":"p2"},
   "layer":[
    {"mark":{"type":"line","strokeWidth":1,"color":"black","clip":true},
     "encoding":{"x":{"field":"lag","type":"quantitative","scale":{"domain":[-40,40]},"axis":{"values":[-40,-30,-20,-10,0,10,20,30,40],"title":"Interaural Delay, Samples"}},
      "y":{"field":"val","type":"quantitative","scale":{"domain":[0,2]},"axis":{"values":[0,1,2],"labelExpr":"datum.value==0?'0':datum.value+' x10⁴'","title":"Correlation Value"}},
      "strokeDash":{"field":"s","type":"nominal","scale":{"domain":["a","b","c","d"],"range":[[1,0],[1,2],[3,2],[4,2,1,2]]},"legend":null}}},
    {"mark":{"type":"rule","opacity":0},
     "encoding":{"y":{"field":"val","type":"quantitative","scale":{"domain":[0,2]},"axis":{"orient":"right","values":[0,1,2],"labels":false,"title":null}}}}
   ],
   "resolve":{"axis":{"y":"independent"}}},
  {"width":196,"height":83,"title":"Positions 13-16","data":{"name":"p4"},
   "layer":[
    {"mark":{"type":"line","strokeWidth":1,"color":"black","clip":true},
     "encoding":{"x":{"field":"lag","type":"quantitative","scale":{"domain":[-40,40]},"axis":{"values":[-40,-30,-20,-10,0,10,20,30,40],"title":"Interaural Delay, Samples"}},
      "y":{"field":"val","type":"quantitative","scale":{"domain":[0,3]},"axis":{"values":[0,1,2,3],"labelExpr":"datum.value==0?'0':(datum.value*10)+' x10³'","title":"Correlation Value"}},
      "strokeDash":{"field":"s","type":"nominal","scale":{"domain":["a","b","c","d"],"range":[[1,0],[1,2],[3,2],[4,2,1,2]]},"legend":null}}},
    {"mark":{"type":"rule","opacity":0},
     "encoding":{"y":{"field":"val","type":"quantitative","scale":{"domain":[0,3]},"axis":{"orient":"right","values":[0,1,2,3],"labels":false,"title":null}}}}
   ],
   "resolve":{"axis":{"y":"independent"}}}
 ],"spacing":7},
 {"width":194,"height":59,"title":"Interaural Delay Estimate Error","data":{"name":"bars"},
  "layer":[
   {"mark":{"type":"bar","fill":"white","stroke":"black","strokeWidth":1,"size":7,"clip":true},
    "encoding":{"x":{"field":"position","type":"quantitative","scale":{"domain":[0,20]},"axis":{"values":[0,2,4,6,8,10,12,14,16,18,20],"title":"Position Number","zindex":1}},
     "y":{"field":"error","type":"quantitative","scale":{"domain":[0,0.6]},"axis":{"values":[0,0.2,0.4,0.6],"title":"Absolute Error (Samples)"}}}},
   {"mark":{"type":"rule","opacity":0},
    "encoding":{"y":{"field":"error","type":"quantitative","scale":{"domain":[0,0.6]},"axis":{"orient":"right","values":[0,0.2,0.4,0.6],"labels":false,"title":null}}}}
  ],
  "resolve":{"axis":{"y":"independent"}}}
 ],"spacing":29}
],
"spacing":6
}
